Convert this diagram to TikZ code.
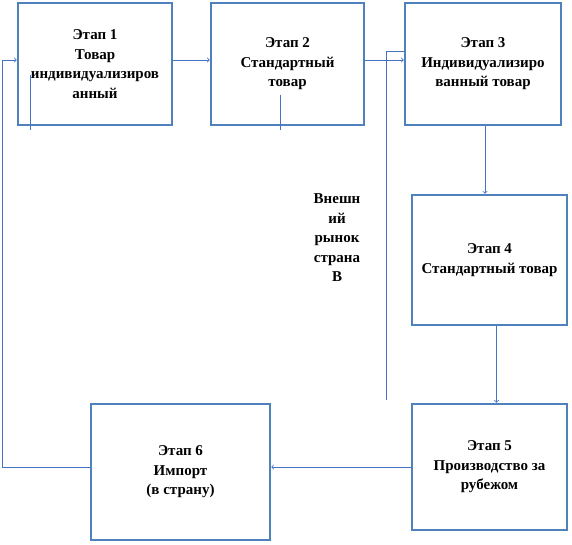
\documentclass[tikz,border=0pt]{standalone}
\usepackage{fontspec}
\setmainfont{Liberation Serif}
\usetikzlibrary{arrows,positioning,calc}
\definecolor{boxblue}{RGB}{79,129,189}
\definecolor{lineblue}{RGB}{68,114,196}

\begin{document}
\begin{tikzpicture}[x=1pt, y=-1pt,
    stage/.style={draw=boxblue, line width=2.5pt, fill=white, align=center,
      font=\fontsize{15}{19.5}\selectfont\bfseries, inner sep=0pt},
    link/.style={draw=lineblue, line width=0.8pt},
    flow/.style={link, ->}]
  \useasboundingbox (0,0) rectangle (572,545);

  % stages
  \node (S1) [stage, minimum width=154pt, minimum height=122pt] at (95,64) {Этап 1\\Товар\\индивидуализиров\\анный};
  \node (S2) [stage, minimum width=153pt, minimum height=122pt] at (287.5,64) {Этап 2\\Стандартный\\товар};
  \node (S3) [stage, minimum width=156pt, minimum height=122pt] at (483,64) {Этап 3\\Индивидуализиро\\ванный товар};
  \node (S4) [stage, minimum width=155pt, minimum height=130pt] at (489.5,260) {Этап 4\\Стандартный товар};
  \node (S5) [stage, minimum width=155pt, minimum height=126pt] at (489.5,467) {Этап 5\\Производство за\\рубежом};
  \node (S6) [stage, minimum width=179pt, minimum height=136pt] at (180.5,472) {Этап 6\\Импорт\\(в страну)};
  \node (market) [align=center, font=\fontsize{15}{19.5}\selectfont\bfseries] at (337,238) {Внешн\\ий\\рынок\\страна\\В};

  \coordinate (loopA) at (2,467);
  \coordinate (loopB) at (2,60);
  \coordinate (bordA) at (386,400);
  \coordinate (bordB) at (386,51);

  % flows
  \draw[flow] ([yshift=4pt]S1.east) -- ([yshift=4pt]S2.west);
  \draw[flow] ([yshift=4pt]S2.east) -- ([yshift=4pt]S3.west);
  \draw[flow] ([xshift=2pt]S3.south) -- ([xshift=2pt]S3.south |- S4.north);
  \draw[flow] ([xshift=7pt]S4.south) -- ([xshift=7pt]S4.south |- S5.north);
  \draw[flow] (S5.west) -- (S5.west -| S6.east);
  \draw[flow] (S6.west |- loopA) -- (loopA) -- (loopB) -- (loopB -| S1.west);

  % border of the foreign market
  \draw[link] (bordA) -- (bordB) -- (bordB -| S3.west);
  \draw[link] (30,75) -- (30,130);
  \draw[link] (280,95) -- (280,130);
\end{tikzpicture}
\end{document}
